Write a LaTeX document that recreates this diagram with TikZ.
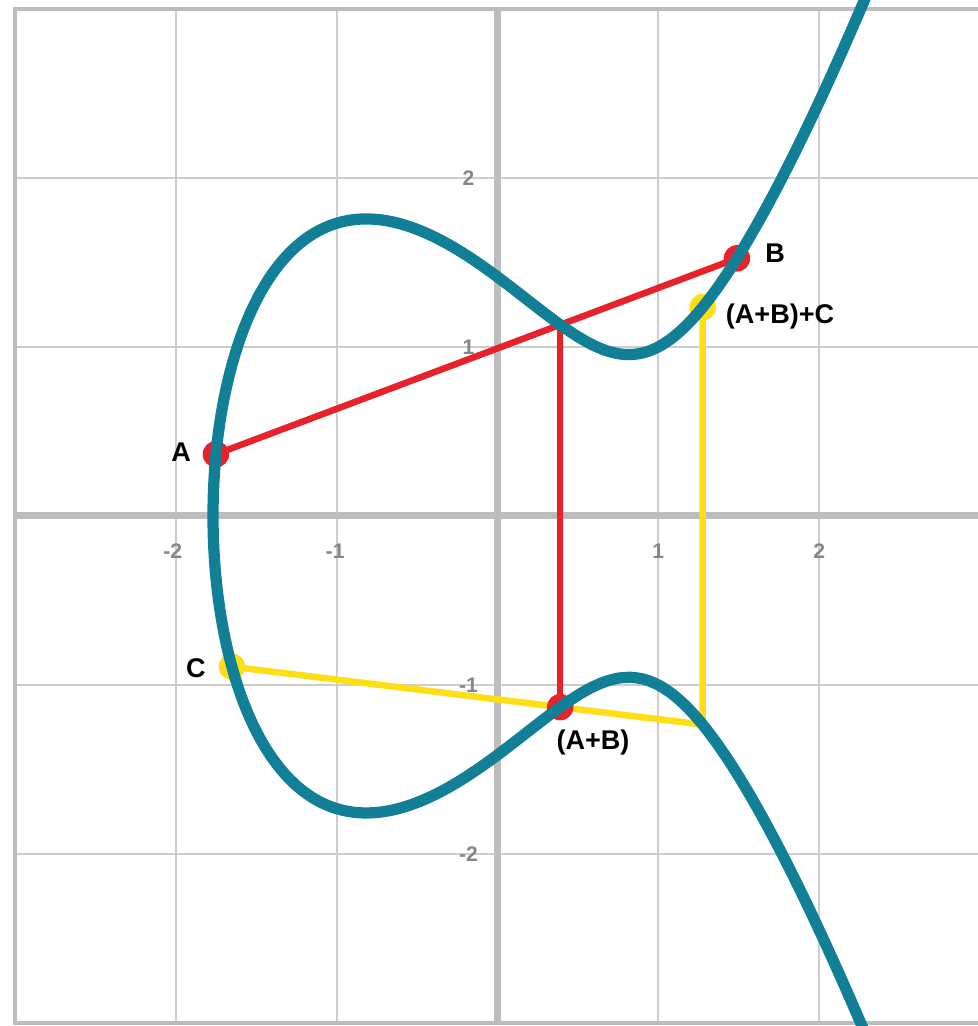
\documentclass[tikz,border=0pt]{standalone}
\usepackage{fontspec}
\setmainfont{Liberation Sans}
\usepackage{xcolor}
\usetikzlibrary{positioning}
\definecolor{curveblue}{HTML}{117F96}
\definecolor{ptred}{HTML}{E8222A}
\definecolor{ptyellow}{HTML}{FFDD17}
\definecolor{gridgrey}{HTML}{CDCDCD}
\definecolor{axisgrey}{HTML}{BDBDBF}
\definecolor{ticktext}{HTML}{858585}
\tikzset{
  ecurve/.style={
    line width = 3.2pt,
    color = curveblue,
    line cap = round
  },
  chordred/.style={
    line width = 1.85pt,
    color = ptred
  },
  chordyel/.style={
    line width = 1.85pt,
    color = ptyellow
  },
  dotred/.style={
    shape = circle,
    fill = ptred,
    inner sep = 0pt,
    minimum size = 0.265cm
  },
  dotyel/.style={
    shape = circle,
    fill = ptyellow,
    inner sep = 0pt,
    minimum size = 0.265cm
  },
  gridln/.style={
    line width = 0.6pt,
    color = gridgrey
  },
  axisln/.style={
    line width = 2pt,
    color = axisgrey
  },
  frameln/.style={
    line width = 1.15pt,
    color = axisgrey
  },
  lbl/.style={
    font = \fontsize{7.7}{9}\selectfont\bfseries,
    inner sep = 0pt
  },
  ticklbl/.style={
    font = \fontsize{6}{7}\selectfont\bfseries,
    text = ticktext,
    inner sep = 0pt
  }
}
\begin{document}
\begin{tikzpicture}[x=1.608cm, y=1.69cm]
    \def\rt{-1.76929}
    \def\rq{1.13039}
    \useasboundingbox (-3.094,-3.018) rectangle (2.988,3.053);
    % grid and axes
    \foreach \k in {-2,-1,1,2}{
        \draw[gridln] (\k,-3) -- (\k,3);
        \draw[gridln] (-3,\k) -- (3,\k);
    }
    \draw[frameln] (-3,-3) rectangle (3,3);
    \draw[axisln] (-3,0) -- (3,0);
    \draw[axisln] (0,-3) -- (0,3);
    \foreach \x/\px in {-2/-2.02, -1/-1.01, 1/1, 2/2}{
        \node[ticklbl] (tx\x) at (\px,-0.207) {\x};
    }
    \foreach \y in {-2,-1,1,2}{
        \node[ticklbl] (ty\y) at (-0.18,\y) {\y};
    }
    % points
    \coordinate (A) at (-1.751,0.3652);
    \coordinate (B) at (1.489,1.5242);
    \coordinate (P) at (0.3899,1.1311);
    \coordinate (D) at (0.3899,-1.1311);
    \coordinate (C) at (-1.652,-0.8919);
    \coordinate (Q) at (1.2758,-1.2349);
    \coordinate (E) at (1.2758,1.2349);
    % chords
    \draw[chordyel] (C) -- (D) -- (Q) -- (E);
    \draw[chordred] (A) -- (B);
    \draw[chordred] (P) -- (D);
    \node[dotyel] (dotC) at (C) {};
    \node[dotyel] (dotE) at (E) {};
    \node[dotred] (dotA) at (A) {};
    \node[dotred] (dotB) at (B) {};
    \node[dotred] (dotD) at (D) {};
    % the curve y^2 = x^3 - 2x + 2
    \begin{scope}
        \clip (-3.094,-3.018) rectangle (2.988,3.053);
        \draw[ecurve] plot[variable=\t, domain=-2.05:2.05, samples=161, smooth]
            ({\rt+(\t)*(\t)}, {(\t)*sqrt((\rt+(\t)*(\t))^2+\rt*(\rt+(\t)*(\t))+\rq)});
    \end{scope}
    % labels
    \node[lbl] (labA) at (-1.968,0.379) {A};
    \node[lbl] (labB) at (1.726,1.556) {B};
    \node[lbl] (labC) at (-1.875,-0.899) {C};
    \node[lbl] (labD) at (0.594,-1.343) {(A+B)};
    \node[lbl] (labE) at (1.757,1.183) {(A+B)+C};
\end{tikzpicture}
\end{document}
